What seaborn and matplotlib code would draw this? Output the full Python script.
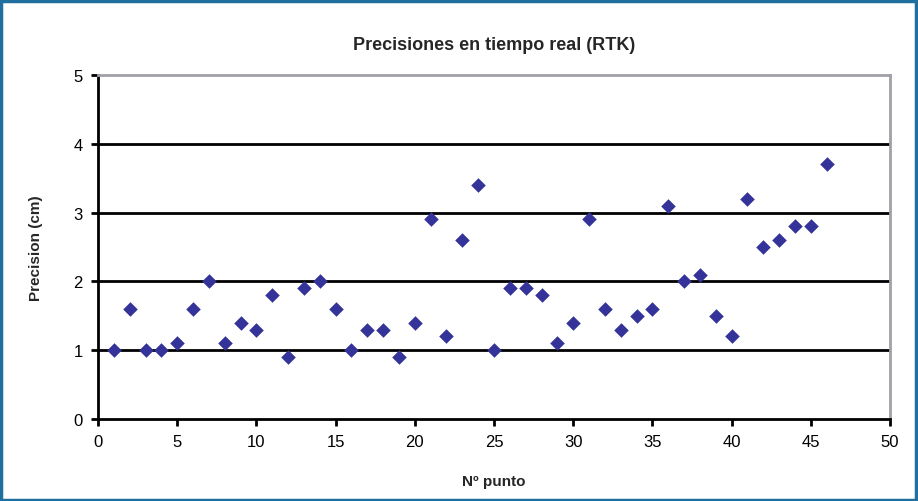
import matplotlib
matplotlib.use("Agg")
import matplotlib.pyplot as plt
import seaborn as sns
import pandas as pd
from matplotlib.patches import Rectangle

sns.set_style("white")
plt.rcParams['font.family'] = ['Liberation Sans Narrow', 'Liberation Sans', 'DejaVu Sans']

# data
punto = list(range(1, 47))
precision = [1.0, 1.6, 1.0, 1.0, 1.1, 1.6, 2.0, 1.1, 1.4, 1.3,
             1.8, 0.9, 1.9, 2.0, 1.6, 1.0, 1.3, 1.3, 0.9, 1.4,
             2.9, 1.2, 2.6, 3.4, 1.0, 1.9, 1.9, 1.8, 1.1, 1.4,
             2.9, 1.6, 1.3, 1.5, 1.6, 3.1, 2.0, 2.1, 1.5, 1.2,
             3.2, 2.5, 2.6, 2.8, 2.8, 3.7]
x_ticks = [0, 5, 10, 15, 20, 25, 30, 35, 40, 45, 50]
y_ticks = [0, 1, 2, 3, 4, 5]

df = pd.DataFrame({"punto": punto, "precision": precision})

fig = plt.figure(figsize=(9.18, 5.02), dpi=100)
ax = fig.add_axes([98 / 918, 1 - 420 / 502, (890 - 98) / 918, (420 - 76) / 502])

sns.scatterplot(data=df, x="punto", y="precision", marker="D", s=55,
                color="#333399", edgecolor="#333399", linewidth=0, ax=ax, zorder=3)

ax.set_xlim(0, 50)
ax.set_ylim(0, 5)
ax.set_xticks(x_ticks)
ax.set_yticks(y_ticks)
for y in y_ticks[1:-1]:
    ax.axhline(y, color="black", lw=2, zorder=1)

for side in ["left", "bottom"]:
    ax.spines[side].set_color("black")
    ax.spines[side].set_linewidth(2)
for side in ["top", "right"]:
    ax.spines[side].set_color("#a0a0a8")
    ax.spines[side].set_linewidth(2)

ax.tick_params(axis="both", direction="out", length=5, width=2, color="black",
               labelsize=12, pad=6, left=True, bottom=True, labelcolor="black")

ax.set_title("Precisiones en tiempo real (RTK)", fontsize=13, fontweight="bold", pad=19)
ax.set_xlabel("Nº punto", fontsize=11, fontweight="bold", labelpad=18)
ax.set_ylabel("Precision (cm)", fontsize=11, fontweight="bold", labelpad=22)

# blue frame around the whole image
fig.patches.append(Rectangle((0.001, 0.002), 0.997, 0.995, transform=fig.transFigure,
                             fill=False, edgecolor="#1f6f9f", linewidth=2.5))

fig.savefig("out.png", dpi=100)
